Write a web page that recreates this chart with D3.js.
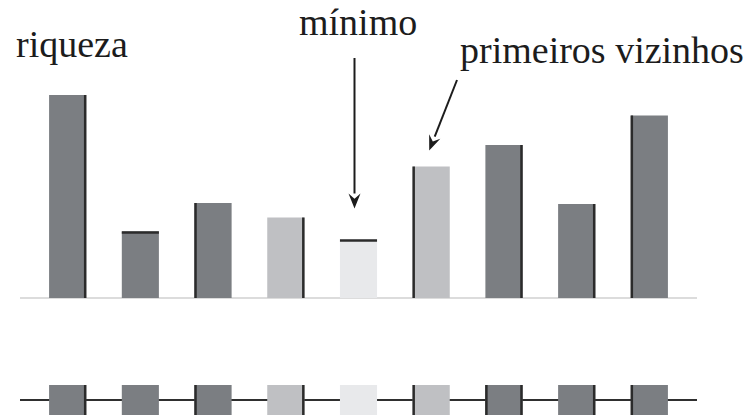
<!DOCTYPE html>
<html>
<head>
<meta charset="utf-8">
<script src="https://cdn.jsdelivr.net/npm/d3@7"></script>
<style>
  html, body { margin: 0; padding: 0; background: #fff; }
  svg { display: block; }
  text { font-family: "Liberation Serif", "Times New Roman", serif; fill: #1c1c1c; }
</style>
</head>
<body>
<svg id="chart" width="750" height="415"></svg>
<script>
// Sites along a transect and their species richness
const sites = ["1", "2", "3", "4", "5", "6", "7", "8", "9"];
const riqueza = [20.3, 6.65, 9.5, 8.05, 5.85, 13.15, 15.3, 9.4, 18.25];
// Shade class of each site: ordinary, first neighbours, the minimum
const shade = ["base", "base", "base", "neigh", "min", "neigh", "base", "base", "base"];
// Which side of each bar carries the dark edge
const barEdge = ["right", "top", "left", "right", "top", "left", "right", "right", "left"];
// Dark ticks on the lattice squares below
const cellEdges = [["right"], [], ["left"], ["right"], [], ["left"], ["left", "right"], ["right"], ["left"]];
// Annotation labels
const labels = { title: "riqueza", min: "mínimo", neigh: "primeiros vizinhos" };

const fills = { base: "#7b7e82", neigh: "#bfc0c3", min: "#e8e9eb" };
const edgeColor = "#2b2b2b";

const svg = d3.select("#chart");

const x = d3.scaleBand()
  .domain(sites)
  .range([20, 697])
  .paddingInner(0.49)
  .paddingOuter(0.4);

const y = d3.scaleLinear().domain([0, 20]).range([298, 98]);

const bw = x.bandwidth();

// Baseline of the bar chart
svg.append("line")
  .attr("x1", x.range()[0]).attr("x2", x.range()[1])
  .attr("y1", y(0)).attr("y2", y(0))
  .attr("stroke", "#dcdcdc").attr("stroke-width", 2);

// Bars
const bars = svg.append("g").selectAll("g.bar")
  .data(sites.map((s, i) => ({ s, v: riqueza[i], shade: shade[i], edge: barEdge[i] })))
  .join("g").attr("class", "bar");

bars.append("rect")
  .attr("x", d => x(d.s))
  .attr("y", d => y(d.v))
  .attr("width", bw)
  .attr("height", d => y(0) - y(d.v))
  .attr("fill", d => fills[d.shade]);

bars.append("line")
  .attr("x1", d => d.edge === "left" ? x(d.s) + 1 : d.edge === "right" ? x(d.s) + bw - 1 : x(d.s))
  .attr("x2", d => d.edge === "left" ? x(d.s) + 1 : d.edge === "right" ? x(d.s) + bw - 1 : x(d.s) + bw)
  .attr("y1", d => d.edge === "top" ? y(d.v) + 1 : y(d.v))
  .attr("y2", d => d.edge === "top" ? y(d.v) + 1 : y(0))
  .attr("stroke", edgeColor).attr("stroke-width", 2.5);

// Lattice row below: connecting line and one square per site
const rowY = 400, cellH = 32;
svg.append("line")
  .attr("x1", x.range()[0]).attr("x2", x.range()[1])
  .attr("y1", rowY).attr("y2", rowY)
  .attr("stroke", "#2f2f2f").attr("stroke-width", 2);

const cells = svg.append("g").selectAll("g.cell")
  .data(sites.map((s, i) => ({ s, shade: shade[i], edges: cellEdges[i] })))
  .join("g").attr("class", "cell");

cells.append("rect")
  .attr("x", d => x(d.s))
  .attr("y", rowY - 15)
  .attr("width", bw)
  .attr("height", cellH)
  .attr("fill", d => fills[d.shade]);

cells.selectAll("line")
  .data(d => d.edges.map(e => ({ s: d.s, e })))
  .join("line")
  .attr("x1", d => d.e === "left" ? x(d.s) + 1 : x(d.s) + bw - 1)
  .attr("x2", d => d.e === "left" ? x(d.s) + 1 : x(d.s) + bw - 1)
  .attr("y1", rowY - 15).attr("y2", rowY - 15 + cellH)
  .attr("stroke", edgeColor).attr("stroke-width", 2.5);

// Labels
svg.append("text").attr("x", 16).attr("y", 57)
  .attr("font-size", 38).text(labels.title);
svg.append("text").attr("x", 299).attr("y", 35)
  .attr("font-size", 38).text(labels.min);
svg.append("text").attr("x", 460).attr("y", 63)
  .attr("font-size", 38).text(labels.neigh);

// Arrow helper: shaft from (x0,y0) to tip (x1,y1) with a filled head
function arrow(x0, y0, x1, y1) {
  const len = 15, half = 6;
  const ang = Math.atan2(y1 - y0, x1 - x0);
  const bx = x1 - len * Math.cos(ang), by = y1 - len * Math.sin(ang);
  const nx = -Math.sin(ang), ny = Math.cos(ang);
  svg.append("line")
    .attr("x1", x0).attr("y1", y0).attr("x2", bx).attr("y2", by)
    .attr("stroke", "#1c1c1c").attr("stroke-width", 2);
  svg.append("path")
    .attr("d", d3.line()([[x1, y1], [bx + nx * half, by + ny * half], [bx + 0.35 * len * Math.cos(ang), by + 0.35 * len * Math.sin(ang)], [bx - nx * half, by - ny * half]]) + "Z")
    .attr("fill", "#1c1c1c");
}

// Arrow to the minimum site
const iMin = shade.indexOf("min");
const minCx = x(sites[iMin]) + bw / 2 - 4;
arrow(minCx, 58, minCx, y(riqueza[iMin]) - 31);

// Arrow to the first neighbour on the right
const iN = shade.lastIndexOf("neigh");
const nCx = x(sites[iN]) + bw / 2 - 2;
arrow(457, 80, nCx, y(riqueza[iN]) - 16);
</script>
</body>
</html>
